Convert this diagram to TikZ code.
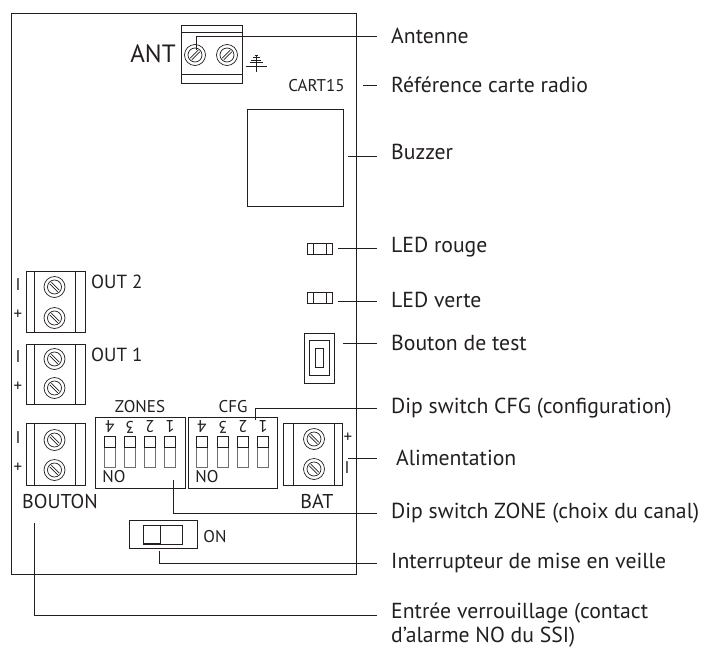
\documentclass[tikz,border=0pt]{standalone}
\usepackage{fontspec}
\setmainfont{PT Sans}
\definecolor{ink}{HTML}{231F20}
\definecolor{soft}{HTML}{6D6E71}
\usetikzlibrary{calc}
\tikzset{
  x=1pt,y=-1pt,
  part/.style={draw=ink,line width=0.9pt,fill=none},
  fine/.style={draw=ink,line width=0.7pt},
  leader/.style={draw=ink,line width=0.8pt},
  txt/.style={text=ink,inner sep=0pt,font=\fontsize{17}{19}\selectfont},
  lab/.style={text=ink,inner sep=0pt,anchor=west,font=\fontsize{21.7}{24}\selectfont},
  big/.style={text=ink,inner sep=0pt,font=\fontsize{20}{24}\selectfont},
  small/.style={text=ink,inner sep=0pt,font=\fontsize{17}{20}\selectfont},
}
\newcommand{\screw}[1]{%
  \draw[fine] (#1) circle[radius=10.5];
  \draw[fine] (#1) circle[radius=7];
  \draw[fine] ($(#1)+(-4.8,3.2)$) -- ($(#1)+(3.2,-4.8)$);
  \draw[fine] ($(#1)+(-3.2,4.8)$) -- ($(#1)+(4.8,-3.2)$);
}
\newcommand{\screwb}[1]{%
  \draw[fine] (#1) circle[radius=10.5];
  \draw[fine] (#1) circle[radius=7];
  \draw[fine] ($(#1)+(-4.8,-3.2)$) -- ($(#1)+(3.2,4.8)$);
  \draw[fine] ($(#1)+(-3.2,-4.8)$) -- ($(#1)+(4.8,3.2)$);
}
\newcommand{\vterm}[2]{% top y, bottom y
  \draw[part] (26,#1) rectangle (85,#2);
  \draw[part] (34,#1) -- (34,#2);
  \draw[part] (75,#1) -- (75,#2);
}
\newcommand{\dip}[1]{%
  \draw[draw=soft,line width=0.7pt] (#1-5.5,447) rectangle (#1+5.5,467);
  \draw[part] (#1-5.5,436) rectangle (#1+5.5,447);
}
\begin{document}
\begin{tikzpicture}
\useasboundingbox (0,0) rectangle (704,648);
% board
\draw[draw=ink,line width=0.9pt] (11,13) rectangle (356,574);
% antenna terminal
\draw[part] (181,25) rectangle (242,83);
\draw[part] (181,32) -- (242,32);
\draw[part] (181,74) -- (242,74);
\coordinate (s1) at (195,55); \screw{s1}
\coordinate (s2) at (227,55); \screw{s2}
\node[big,font=\fontsize{25}{28}\selectfont] (ant) at (153,54) {ANT};
% earth
\draw[fine] (256,55) -- (256,72);
\draw[fine] (245.5,66) -- (266.5,66);
\draw[fine] (249.5,62.7) -- (262.5,62.7);
\draw[fine] (251,60) -- (261,60);
\draw[fine] (252.5,57.5) -- (259.5,57.5);
\draw[fine] (254.5,55) -- (257.5,55);
% cart
\node[txt] (cart) at (316.5,86) {CART15};
% buzzer
\node[part,minimum width=96pt,minimum height=97pt,inner sep=0pt] (buzzer) at (295,157.5) {};
% LEDs
\node[part,minimum width=25pt,minimum height=11pt,inner sep=0pt] (led1) at (319.5,248.5) {};
\draw[part] (313,243) -- (313,254) (326,243) -- (326,254);
\node[part,minimum width=25pt,minimum height=11pt,inner sep=0pt] (led2) at (319.5,298) {};
\draw[part] (313,292.5) -- (313,303.5) (326,292.5) -- (326,303.5);
% test button
\node[part,minimum width=30pt,minimum height=50pt,inner sep=0pt] (btn) at (319,358) {};
\draw[part] (309,340) rectangle (329.5,375);
\draw[part] (315,348) rectangle (323.5,367);
% left terminals
\vterm{271}{332}
\coordinate (a) at (54.5,287); \screwb{a}
\coordinate (b) at (54.5,318); \screwb{b}
\vterm{344}{404}
\coordinate (c) at (54.5,359); \screwb{c}
\coordinate (d) at (54.5,388); \screwb{d}
\vterm{423}{485}
\coordinate (e) at (54.5,440); \screwb{e}
\coordinate (f) at (54.5,470); \screwb{f}
\node[small,anchor=west,font=\fontsize{19}{21}\selectfont] (o2) at (91,282) {OUT 2};
\node[small,anchor=west,font=\fontsize{19}{21}\selectfont] (o1) at (91,355) {OUT 1};
\node[big] (bouton) at (60,501) {BOUTON};
\foreach \n/\y in {i1/285,i2/357,i3/438}{\node[small] (\n) at (18,\y) {I};}
\foreach \n/\y in {p1/315,p2/387,p3/468}{\node[small] (\n) at (18,\y) {+};}
% dip boxes
\draw[part] (95,417) rectangle (185,488);
\draw[part] (188,417) rectangle (277,488);
\foreach \x in {110,130,150,170,202,223,243,263}{\dip{\x}}
\foreach \x/\t in {110/4,130/3,150/2,170/1,202/4,223/3,243/2,263/1}{
  \node[txt,rotate=180] at (\x,427) {\t};}
\node[txt] (no1) at (114,477) {NO};
\node[txt] (no2) at (207,477) {NO};
\node[txt] (zn) at (140,407) {ZONES};
\node[txt] (cf) at (233,407) {CFG};
% bat terminal
\draw[part] (283,423) rectangle (342,485);
\draw[part] (293,423) -- (293,485);
\draw[part] (334,423) -- (334,485);
\coordinate (g) at (314,439); \screwb{g}
\coordinate (h) at (314,469); \screwb{h}
\node[small] (bp) at (348,438) {+};
\node[small] (bm) at (347,468) {I};
\node[big] (bat) at (317,501) {BAT};
% switch
\draw[part] (129,520) rectangle (197,548);
\draw[part] (143,525) rectangle (182,544);
\draw[part] (160,525) -- (160,544);
\draw[draw=ink,line width=1.5pt] (143,544) -- (160,544);
\node[small] (on) at (215,537) {ON};
% labels
\node[lab] (l1) at (391,36) {Antenne};
\node[lab] (l2) at (391,85) {Référence carte radio};
\node[lab] (l3) at (391,152) {Buzzer};
\node[lab] (l4) at (391,247) {LED rouge};
\node[lab] (l5) at (391,300) {LED verte};
\node[lab] (l6) at (391,343) {Bouton de test};
\node[lab] (l7) at (391,408) {Dip switch CFG (configuration)};
\node[lab] (l8) at (396,458) {Alimentation};
\node[lab] (l9) at (391,513) {Dip switch ZONE (choix du canal)};
\node[lab] (l10) at (391,563) {Interrupteur de mise en veille};
\node[lab,anchor=base west] (l11) at (391,618) {Entrée verrouillage (contact};
\node[lab,anchor=base west] (l12) at (391,642) {d’alarme NO du SSI)};
% leaders
\coordinate (c1) at (196,50); \coordinate (e1) at (377,36);
\draw[leader] (c1) |- (e1);
\coordinate (c2a) at (363,85); \coordinate (c2b) at (377,85);
\draw[leader] (c2a) -- (c2b);
\coordinate (c3a) at (348,156); \coordinate (c3) at (377,156);
\draw[leader] (c3a) -- (c3);
\coordinate (c4a) at (338,248); \coordinate (c4b) at (377,248);
\draw[leader] (c4a) -- (c4b);
\coordinate (c5a) at (338,301); \coordinate (c5b) at (377,301);
\draw[leader] (c5a) -- (c5b);
\coordinate (c6a) at (343,343); \coordinate (c6b) at (377,343);
\draw[leader] (c6a) -- (c6b);
\coordinate (c7a) at (255,420); \coordinate (c7b) at (377,408);
\draw[leader] (c7a) |- (c7b);
\coordinate (c8a) at (348,458); \coordinate (c8b) at (377,458);
\draw[leader] (c8a) -- (c8b);
\coordinate (c9a) at (173,480); \coordinate (c9b) at (377,513);
\draw[leader] (c9a) |- (c9b);
\coordinate (c10a) at (159,551); \coordinate (c10b) at (377,563);
\draw[leader] (c10a) |- (c10b);
\coordinate (c11a) at (34,523); \coordinate (c11b) at (377,615);
\draw[leader] (c11a) |- (c11b);
\end{tikzpicture}
\end{document}
